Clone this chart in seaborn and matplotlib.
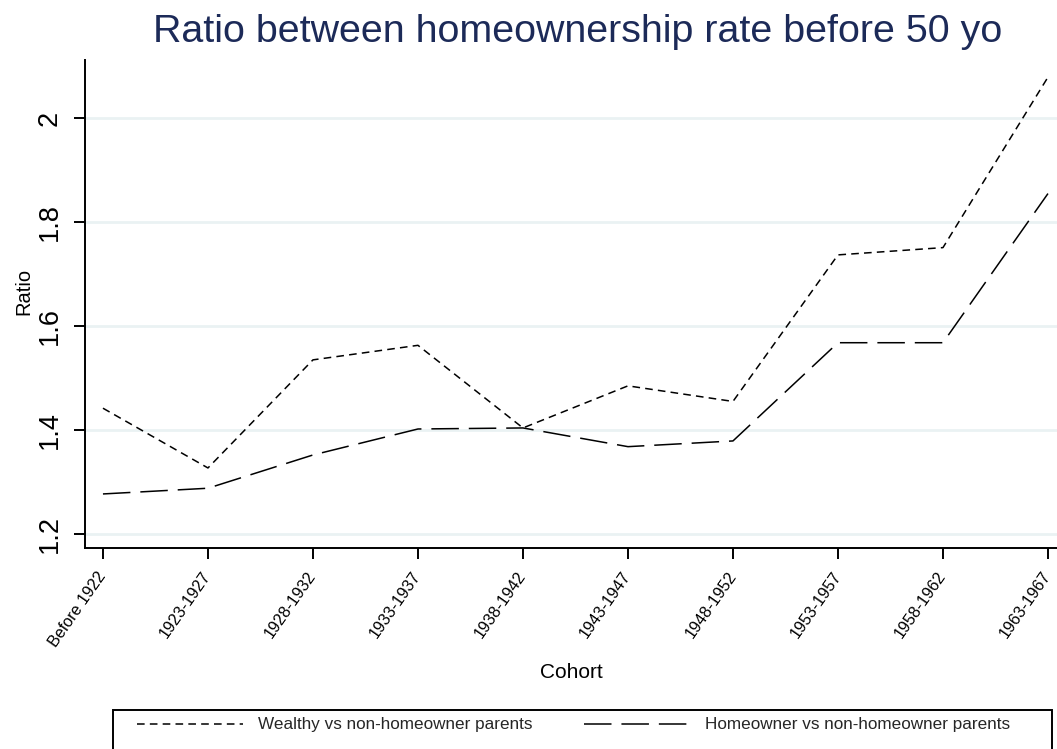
import matplotlib
matplotlib.use("Agg")
import matplotlib.pyplot as plt
import seaborn as sns
import pandas as pd
from matplotlib.patches import Rectangle

cohorts = ["Before 1922", "1923-1927", "1928-1932", "1933-1937", "1938-1942",
           "1943-1947", "1948-1952", "1953-1957", "1958-1962", "1963-1967"]
wealthy = [1.442, 1.327, 1.535, 1.563, 1.404, 1.485, 1.455, 1.737, 1.751, 2.079]
homeowner = [1.277, 1.288, 1.352, 1.402, 1.404, 1.368, 1.379, 1.568, 1.568, 1.855]
series_names = ["Wealthy vs non-homeowner parents", "Homeowner vs non-homeowner parents"]
yticks = [1.2, 1.4, 1.6, 1.8, 2.0]
ytick_labels = ["1.2", "1.4", "1.6", "1.8", "2"]

df = pd.DataFrame({
    "Cohort": cohorts * 2,
    "Ratio": wealthy + homeowner,
    "Series": [series_names[0]] * len(cohorts) + [series_names[1]] * len(cohorts),
})

sns.set_theme(style="white")
plt.rcParams["font.family"] = ["Liberation Sans", "DejaVu Sans"]

fig = plt.figure(figsize=(10.57, 7.49), dpi=100)
ax = fig.add_axes([85 / 1057, 1 - 548 / 749, 1 - 85 / 1057, (548 - 60) / 749])

for y in yticks:
    ax.axhline(y, color="#eaf2f3", lw=2.0, zorder=0)

sns.lineplot(data=df, x="Cohort", y="Ratio", style="Series",
             dashes={series_names[0]: (5.0, 3.4), series_names[1]: (18, 6.5)},
             color="black", lw=1.1, sort=False, ax=ax, legend=True)

handles, labels = ax.get_legend_handles_labels()
ax.get_legend().remove()

ax.set_xlim(-0.171, 9.086)
ax.set_ylim(1.173, 2.112)
ax.set_yticks(yticks)
ax.set_yticklabels(ytick_labels, rotation=90, va="center", fontsize=19.5)
ax.set_xticks(range(len(cohorts)))
ax.set_xticklabels(cohorts, rotation=55, ha="right", va="center",
                   rotation_mode="anchor", fontsize=11.6)

for s in ["top", "right"]:
    ax.spines[s].set_visible(False)
for s in ["left", "bottom"]:
    ax.spines[s].set_color("black")
    ax.spines[s].set_linewidth(1.4)
ax.tick_params(axis="both", which="major", direction="out", length=8, width=1.4,
               color="black", left=True, bottom=True, labelcolor="black")
ax.tick_params(axis="y", pad=8)
ax.tick_params(axis="x", pad=10)

ax.set_xlabel("Cohort", fontsize=15, color="black")
ax.set_ylabel("Ratio", fontsize=14.5, color="black")
ax.yaxis.set_label_coords(-0.053, 0.525)
ax.xaxis.set_label_coords(0.5, -0.235)

fig.text(578 / 1057, 1 - 32 / 749, "Ratio between homeownership rate before 50 yo",
         ha="center", va="center", fontsize=28.4, color="#1c2a58")

fig.patches.append(Rectangle((113 / 1057, -0.05), (1052 - 113) / 1057, 0.05 + 39 / 749,
                             transform=fig.transFigure, fill=False, edgecolor="black",
                             lw=1.4, zorder=5))
fig.legend(handles, labels, loc="center left", bbox_to_anchor=(137 / 1057, 1 - 725 / 749),
           ncol=2, frameon=False, fontsize=12.3, handlelength=6.2, columnspacing=3.0,
           handletextpad=0.9, borderpad=0, borderaxespad=0)

fig.savefig("out.png", dpi=100)
